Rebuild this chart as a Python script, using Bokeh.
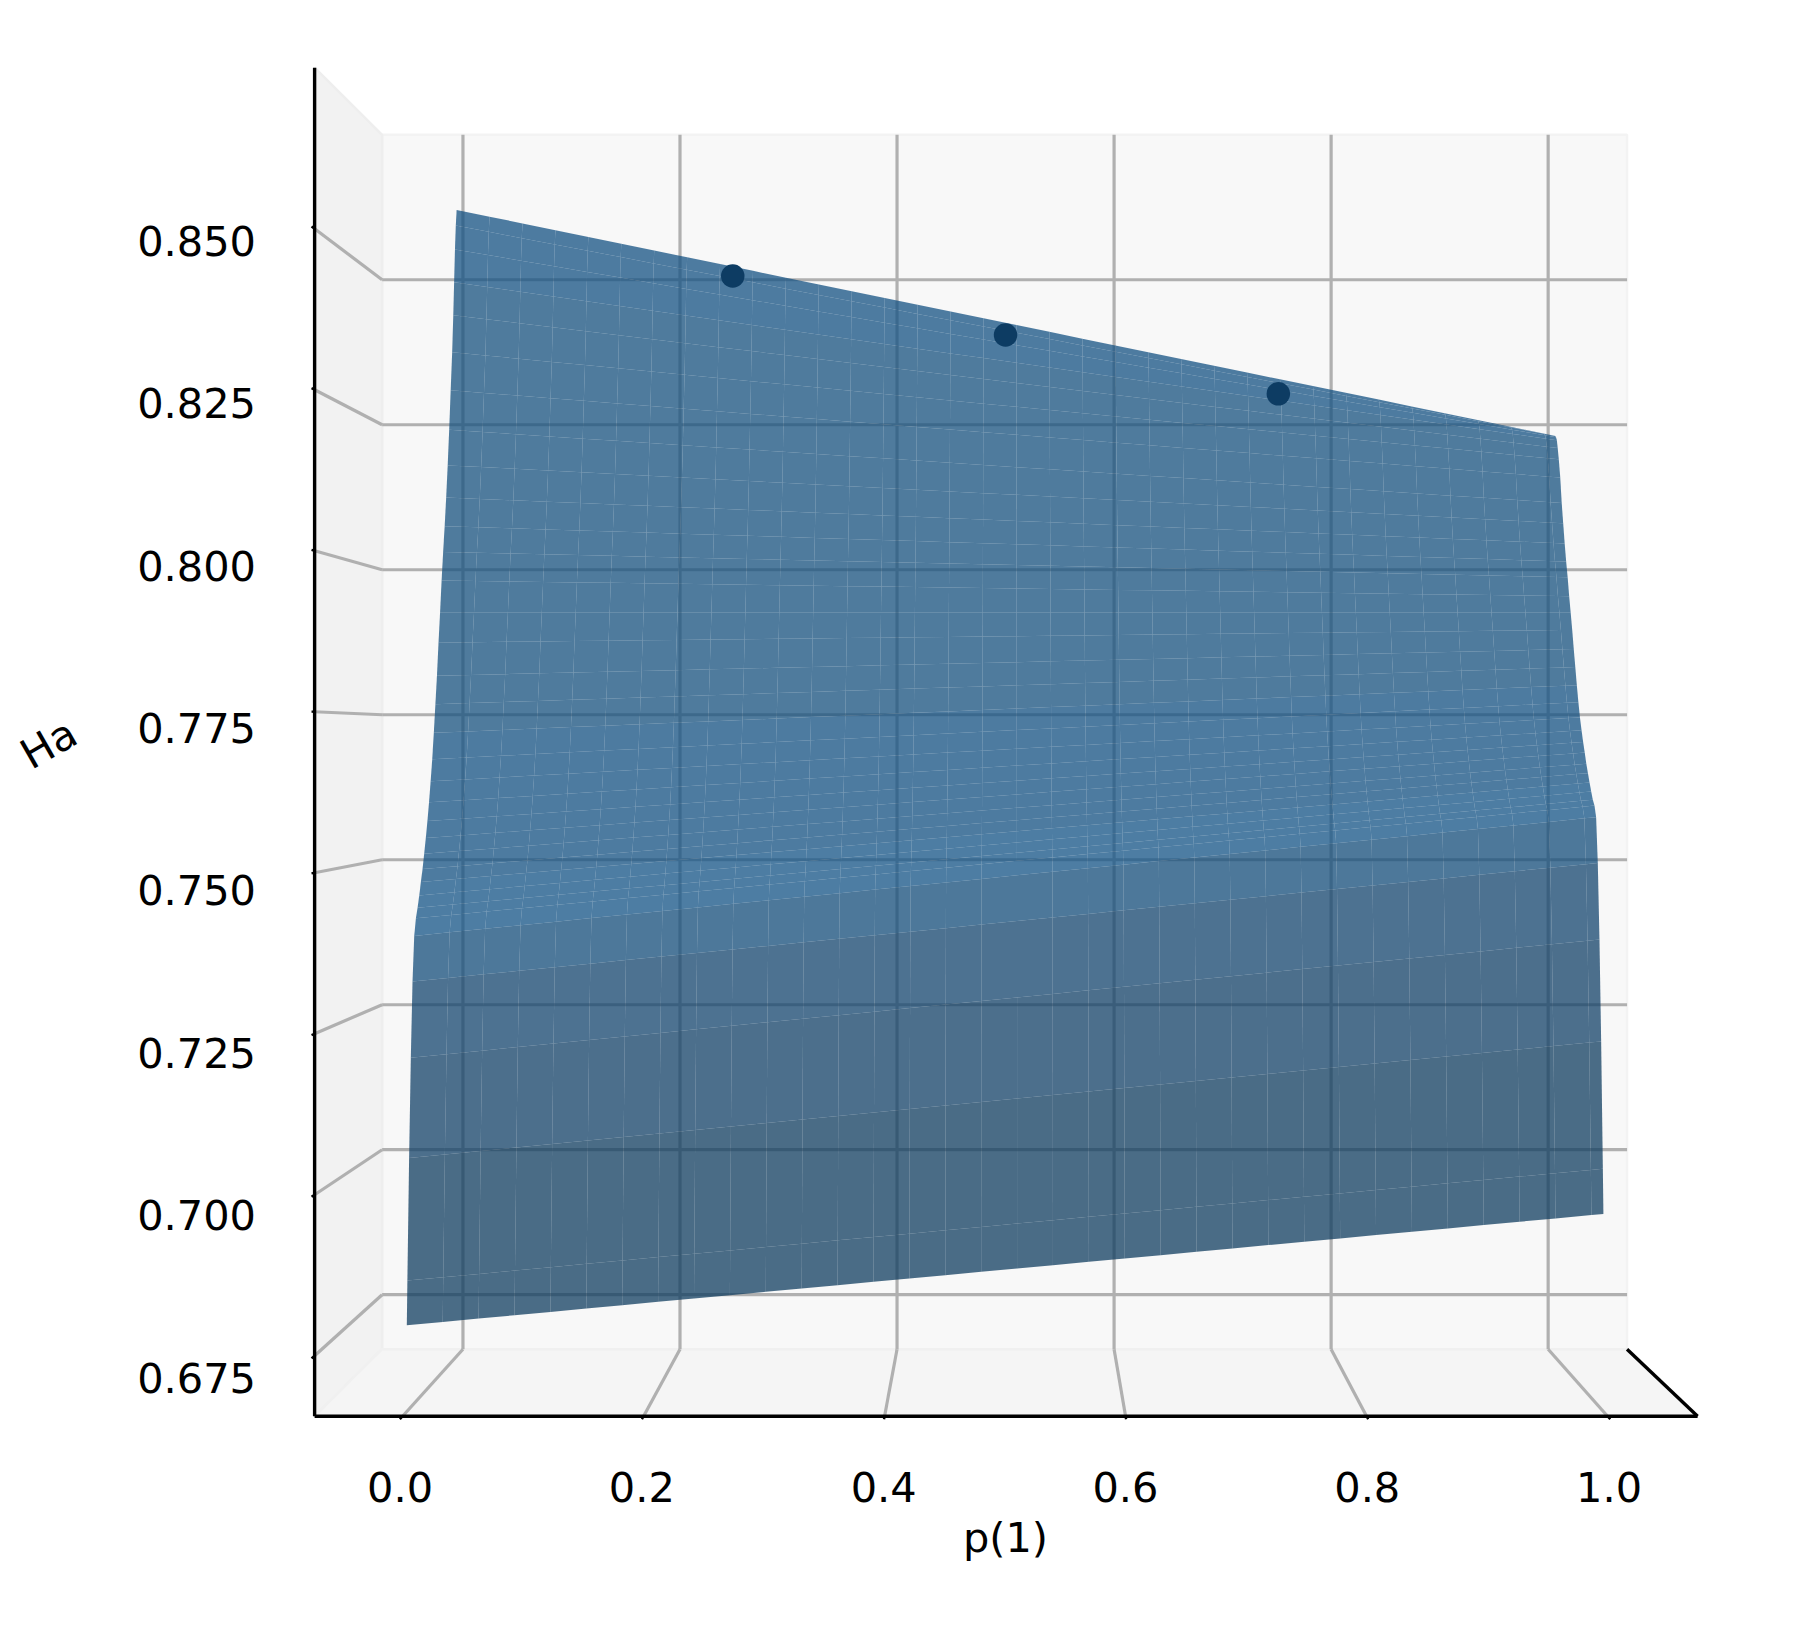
from bokeh.plotting import figure
from bokeh.models import Range1d
from bokeh.core.properties import value
from bokeh.embed import file_html
from bokeh.resources import INLINE

# ---- data ----
p_ticks = [0.0, 0.2, 0.4, 0.6, 0.8, 1.0]
p_tick_labels = ["0.0", "0.2", "0.4", "0.6", "0.8", "1.0"]
ha_ticks = [0.850, 0.825, 0.800, 0.775, 0.750, 0.725, 0.700, 0.675]
ha_tick_labels = ["0.850", "0.825", "0.800", "0.775", "0.750", "0.725", "0.700", "0.675"]
x_label = "p(1)"
z_label = "Ha"

# surface columns (p) of the mesh
p_grid = [0.00, 0.03, 0.06, 0.09, 0.12, 0.15, 0.18, 0.21, 0.24, 0.27, 0.30, 0.33,
          0.36, 0.39, 0.42, 0.45, 0.48, 0.51, 0.54, 0.57, 0.60, 0.63, 0.66, 0.69,
          0.72, 0.75, 0.78, 0.81, 0.84, 0.87, 0.90, 0.93, 0.96, 0.99, 1.00]
# surface rows: depth in the box, front to back
row_depth = [0.0636, 0.0723, 0.0985, 0.1247, 0.1508, 0.1770, 0.2032, 0.2294, 0.2556,
             0.2817, 0.3079, 0.3341, 0.3603, 0.3865, 0.4126, 0.4388, 0.4650, 0.4912,
             0.5174, 0.5435, 0.5697, 0.5959, 0.6221, 0.6483, 0.6744, 0.7006, 0.7268,
             0.7530, 0.7792, 0.8053, 0.8250, 0.8400, 0.8550, 0.8700, 0.8850]
# Ha along each row at p = 0 and at p = 1
ha_at_p0 = [0.6791, 0.6860, 0.7050, 0.7206, 0.7325, 0.7396, 0.7423, 0.7439, 0.7458,
            0.7479, 0.7499, 0.7523, 0.7548, 0.7575, 0.7605, 0.7639, 0.7675, 0.7718,
            0.7765, 0.7812, 0.7867, 0.7917, 0.7971, 0.8019, 0.8063, 0.8112, 0.8167,
            0.8228, 0.8296, 0.8362, 0.8426, 0.8483, 0.8540, 0.8582, 0.8610]
ha_at_p1 = [0.6965, 0.7035, 0.7233, 0.7392, 0.7512, 0.7584, 0.7602, 0.7611, 0.7624,
            0.7638, 0.7653, 0.7668, 0.7686, 0.7703, 0.7722, 0.7743, 0.7768, 0.7796,
            0.7826, 0.7856, 0.7888, 0.7917, 0.7945, 0.7977, 0.8004, 0.8035, 0.8070,
            0.8105, 0.8149, 0.8181, 0.8201, 0.8215, 0.8221, 0.8224, 0.8225]
# the three points
point_p = [0.25, 0.50, 0.75]
point_depth = [0.945, 0.945, 0.945]
point_ha = [0.8502, 0.8401, 0.8300]

# apparent colour of each mesh row of cells, front to back
cell_rgb = [(75, 109, 135), (75, 109, 135), (76, 112, 140), (77, 115, 145), (78, 120, 155)] + \
           [(77, 125, 163)] * 4 + [(78, 124, 160)] * 8 + [(79, 123, 158)] * 14 + [(78, 124, 160)] * 3

# ---- perspective box ----
CX, CY = 1009.4, 741.5
P0, Z0 = 0.504, 0.7703
SX, SZ = 1205.0, 6440.0
PERSP = 0.1104
P_MIN, P_MAX = -0.073, 1.0747
P_MIN_BACK, P_MAX_BACK = -0.0745, 1.0727
Z_MIN, Z_MAX = 0.6656, 0.875


def proj(p, d, z):
    s = 1.0 / (1.0 + PERSP * d)
    return CX + s * (p - P0) * SX, CY - s * (z - Z0) * SZ


fig = figure(width=1788, height=1616, output_backend="svg", toolbar_location=None,
             x_range=Range1d(0, 1788), y_range=Range1d(1616, 0),
             min_border=0, outline_line_color=None, background_fill_color="white")
fig.axis.visible = False
fig.grid.visible = False


def poly(corners, fill, edge, width=2.5):
    xs, ys = zip(*[proj(*c) for c in corners])
    fig.patch(list(xs), list(ys), fill_color=fill, line_color=edge, line_width=width)


def seg(a, b, color, width):
    xa, ya = proj(*a)
    xb, yb = proj(*b)
    fig.line([xa, xb], [ya, yb], line_color=color, line_width=width)


# panes
poly([(P_MIN_BACK, 1, Z_MIN), (P_MAX_BACK, 1, Z_MIN), (P_MAX_BACK, 1, Z_MAX), (P_MIN_BACK, 1, Z_MAX)], "#f8f8f8", "#f3f3f3")
poly([(P_MIN, 0, Z_MIN), (P_MIN_BACK, 1, Z_MIN), (P_MIN_BACK, 1, Z_MAX), (P_MIN, 0, Z_MAX)], "#f2f2f2", "#eeeeee")
poly([(P_MIN, 0, Z_MIN), (P_MAX, 0, Z_MIN), (P_MAX_BACK, 1, Z_MIN), (P_MIN_BACK, 1, Z_MIN)], "#f5f5f5", "#f0f0f0")

# grid
GRID = "#b0b0b0"
for t in p_ticks:
    seg((t, 0, Z_MIN), (t, 1, Z_MIN), GRID, 3.2)
    seg((t, 1, Z_MIN), (t, 1, Z_MAX), GRID, 3.2)
for z in ha_ticks:
    seg((P_MIN, 0, z), (P_MIN_BACK, 1, z), GRID, 3.2)
    seg((P_MIN_BACK, 1, z), (P_MAX_BACK, 1, z), GRID, 3.2)

# surface
ALPHA = 0.74
xs, ys, colors = [], [], []
for j in range(len(row_depth) - 1):
    r, g, b = cell_rgb[j]
    col = tuple(int(round(max(0, (c - (1 - ALPHA) * 248) / ALPHA))) for c in (r, g, b))
    hexcol = "#%02x%02x%02x" % col
    for i in range(len(p_grid) - 1):
        cell = [(i, j), (i + 1, j), (i + 1, j + 1), (i, j + 1)]
        px, py = [], []
        for ci, cj in cell:
            pv = p_grid[ci]
            ha = ha_at_p0[cj] + (ha_at_p1[cj] - ha_at_p0[cj]) * pv
            X, Y = proj(pv, row_depth[cj], ha)
            px.append(X)
            py.append(Y)
        xs.append(px)
        ys.append(py)
        colors.append(hexcol)
fig.patches(xs, ys, fill_color=colors, fill_alpha=ALPHA, line_color=None)

# points
pts = [proj(a, b, c) for a, b, c in zip(point_p, point_depth, point_ha)]
fig.scatter([q[0] for q in pts], [q[1] for q in pts], size=23.5, marker="circle",
            fill_color="#0d3c63", line_color=None)

# axis lines
BLACK = "#000000"
seg((P_MIN, 0, Z_MIN), (P_MIN, 0, Z_MAX), BLACK, 3.4)
seg((P_MIN, 0, Z_MIN), (P_MAX, 0, Z_MIN), BLACK, 3.4)
seg((P_MAX, 0, Z_MIN), (P_MAX_BACK, 1, Z_MIN), BLACK, 3.4)

# ticks
for t in p_ticks:
    seg((t, 0, Z_MIN), (t, -0.04, Z_MIN), BLACK, 2.4)
for z in ha_ticks:
    seg((P_MIN, 0, z), (P_MIN, -0.04, z), BLACK, 2.4)

# tick labels and axis titles
FONT = value("DejaVu Sans")
lx = [proj(t, -0.03, Z_MIN)[0] - 0.5 for t in p_ticks]
fig.text(lx, [1486.5] * len(lx), text=p_tick_labels, text_font=FONT, text_font_size="41.5px",
         text_align="center", text_baseline="middle", text_color=BLACK)
ly = [proj(P_MIN, -0.077, z)[1] + 16.6 for z in ha_ticks]
fig.text([255.5] * len(ly), ly, text=ha_tick_labels, text_font=FONT, text_font_size="41.5px",
         text_align="right", text_baseline="middle", text_color=BLACK)
fig.text([1005], [1537], text=[x_label], text_font=FONT, text_font_size="41.5px",
         text_align="center", text_baseline="middle", text_color=BLACK)
fig.text([48], [743], text=[z_label], text_font=FONT, text_font_size="41.5px", angle=0.52,
         text_align="center", text_baseline="middle", text_color=BLACK)

open("out.html", "w").write(file_html(fig, INLINE))
